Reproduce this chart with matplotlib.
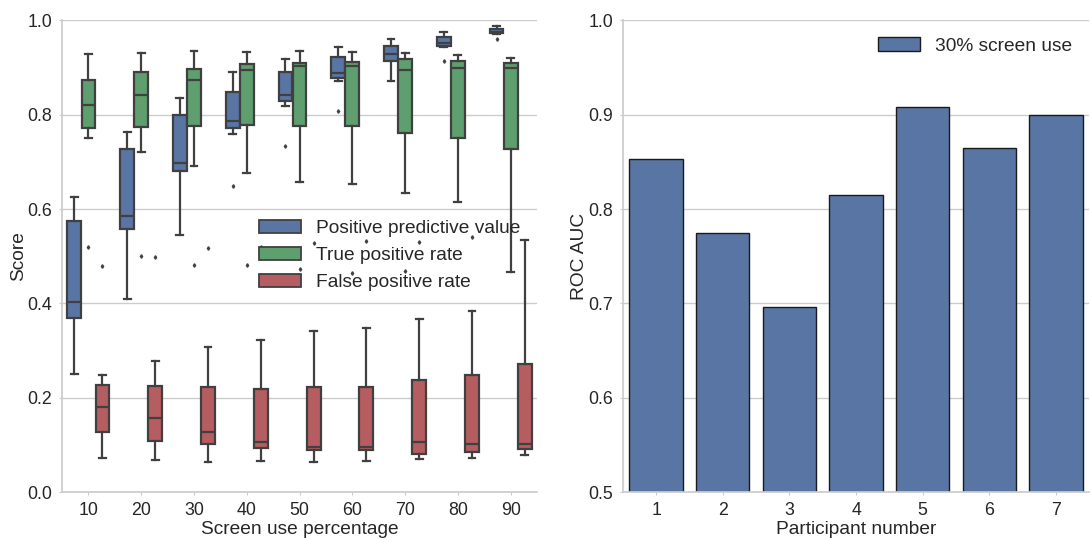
import colorsys
import numpy as np
import matplotlib
matplotlib.use("Agg")
import matplotlib.pyplot as plt
from matplotlib.patches import Patch
from matplotlib.colors import to_rgb

# screen use levels on the x axis
screen_use = [10, 20, 30, 40, 50, 60, 70, 80, 90]

# box summaries per screen use level: lower whisker, q1, median, q3, upper whisker
ppv_lo  = [0.250, 0.410, 0.544, 0.759, 0.817, 0.870, 0.870, 0.942, 0.971]
ppv_q1  = [0.369, 0.558, 0.681, 0.772, 0.829, 0.878, 0.913, 0.945, 0.972]
ppv_med = [0.403, 0.585, 0.697, 0.787, 0.842, 0.887, 0.929, 0.952, 0.975]
ppv_q3  = [0.575, 0.728, 0.798, 0.847, 0.889, 0.921, 0.944, 0.965, 0.980]
ppv_hi  = [0.626, 0.764, 0.835, 0.890, 0.918, 0.943, 0.960, 0.975, 0.987]
ppv_out = [[], [], [], [0.649], [0.734], [0.807], [], [0.914], [0.960]]

tpr_lo  = [0.751, 0.721, 0.692, 0.677, 0.658, 0.652, 0.633, 0.614, 0.467]
tpr_q1  = [0.772, 0.773, 0.775, 0.778, 0.775, 0.775, 0.760, 0.750, 0.727]
tpr_med = [0.820, 0.841, 0.872, 0.894, 0.903, 0.902, 0.894, 0.898, 0.898]
tpr_q3  = [0.873, 0.889, 0.896, 0.906, 0.908, 0.911, 0.917, 0.914, 0.908]
tpr_hi  = [0.928, 0.930, 0.934, 0.933, 0.934, 0.932, 0.930, 0.927, 0.920]
tpr_out = [[0.519], [0.501], [0.481], [0.481], [0.472], [0.465], [0.469], [], []]

fpr_lo  = [0.072, 0.069, 0.065, 0.066, 0.065, 0.067, 0.070, 0.072, 0.080]
fpr_q1  = [0.127, 0.110, 0.103, 0.094, 0.090, 0.089, 0.082, 0.085, 0.091]
fpr_med = [0.180, 0.158, 0.127, 0.106, 0.096, 0.096, 0.106, 0.103, 0.102]
fpr_q3  = [0.228, 0.226, 0.224, 0.220, 0.224, 0.224, 0.239, 0.249, 0.272]
fpr_hi  = [0.249, 0.279, 0.308, 0.322, 0.342, 0.348, 0.367, 0.384, 0.534]
fpr_out = [[0.479], [0.498], [0.518], [0.520], [0.527], [0.533], [0.531], [0.540], []]

# ROC AUC per participant at 30% screen use
participants = [1, 2, 3, 4, 5, 6, 7]
roc_auc = [0.853, 0.775, 0.696, 0.815, 0.908, 0.865, 0.899]


def desat(c, prop=0.75):
    h, l, s = colorsys.rgb_to_hls(*to_rgb(c))
    return colorsys.hls_to_rgb(h, l, s * prop)


blue, green, red = desat("#4C72B0"), desat("#55A868"), desat("#C44E52")
dark = "#404040"
text_c = "#262626"
light = "#cccccc"

plt.rcParams["font.family"] = ["Liberation Sans", "DejaVu Sans"]
plt.rcParams["text.color"] = text_c
plt.rcParams["axes.labelcolor"] = text_c
plt.rcParams["xtick.color"] = text_c
plt.rcParams["ytick.color"] = text_c

fig = plt.figure(figsize=(10.92, 5.38), dpi=100)
ax1 = fig.add_axes([0.0568, 0.0846, 0.4350, 0.8782])
ax2 = fig.add_axes([0.5703, 0.0846, 0.4273, 0.8782])


def style(ax):
    ax.set_facecolor("white")
    for side in ("top", "right"):
        ax.spines[side].set_visible(False)
    for side in ("left", "bottom"):
        ax.spines[side].set_color(light)
        ax.spines[side].set_linewidth(1.25)
    ax.yaxis.grid(True, color=light, linewidth=1.0)
    ax.xaxis.grid(False)
    ax.set_axisbelow(True)
    ax.tick_params(axis="both", length=2, color=light, labelsize=12.8, pad=5)


# grouped boxes
series = [
    (ppv_lo, ppv_q1, ppv_med, ppv_q3, ppv_hi, ppv_out, blue, "Positive predictive value"),
    (tpr_lo, tpr_q1, tpr_med, tpr_q3, tpr_hi, tpr_out, green, "True positive rate"),
    (fpr_lo, fpr_q1, fpr_med, fpr_q3, fpr_hi, fpr_out, red, "False positive rate"),
]
bw = 0.8 / len(series)
x = np.arange(len(screen_use))
handles = []
for k, (lo, q1, med, q3, hi, out, col, name) in enumerate(series):
    stats = [dict(whislo=lo[i], q1=q1[i], med=med[i], q3=q3[i], whishi=hi[i], fliers=out[i])
             for i in range(len(screen_use))]
    pos = x + (k - 1) * bw
    ax1.bxp(stats, positions=pos, widths=bw * 0.98, patch_artist=True, showfliers=True,
            boxprops=dict(facecolor=col, edgecolor=dark, linewidth=1.6),
            medianprops=dict(color=dark, linewidth=1.6),
            whiskerprops=dict(color=dark, linewidth=1.6),
            capprops=dict(color=dark, linewidth=1.6),
            flierprops=dict(marker="d", markersize=1.8, markerfacecolor=dark,
                            markeredgecolor=dark, linestyle="none"),
            manage_ticks=False)
    handles.append(Patch(facecolor=col, edgecolor=dark, linewidth=1.3, label=name))

style(ax1)
ax1.set_xlim(-0.5, len(screen_use) - 0.5)
ax1.set_ylim(0, 1.0)
ax1.set_xticks(x)
ax1.set_xticklabels([str(s) for s in screen_use])
ax1.set_yticks(np.arange(0, 1.01, 0.2))
ax1.set_yticklabels([f"{v:.1f}" for v in np.arange(0, 1.01, 0.2)])
ax1.set_xlabel("Screen use percentage", fontsize=13.8, labelpad=1)
ax1.set_ylabel("Score", fontsize=13.8, labelpad=0)
ax1.legend(handles=handles, loc="center left", bbox_to_anchor=(0.378, 0.502),
           frameon=False, fontsize=13.8, handlelength=2.2, labelspacing=0.5)

# per participant bars
px = np.arange(len(participants))
ax2.bar(px, roc_auc, width=0.8, color=blue, edgecolor="#1a1a1a", linewidth=1.0,
        label="30% screen use")
style(ax2)
ax2.set_xlim(-0.5, len(participants) - 0.5)
ax2.set_ylim(0.5, 1.0)
ax2.set_xticks(px)
ax2.set_xticklabels([str(p) for p in participants])
ax2.set_yticks(np.arange(0.5, 1.001, 0.1))
ax2.set_yticklabels([f"{v:.1f}" for v in np.arange(0.5, 1.001, 0.1)])
ax2.set_xlabel("Participant number", fontsize=13.8, labelpad=1)
ax2.set_ylabel("ROC AUC", fontsize=13.8, labelpad=0)
ax2.legend(loc="upper right", frameon=False, fontsize=13.8, handlelength=2.2)

fig.savefig("out.png", dpi=100, facecolor="white")
